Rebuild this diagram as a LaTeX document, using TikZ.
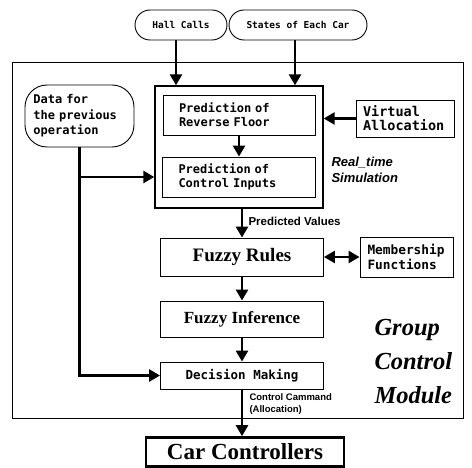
\documentclass[tikz,border=0pt]{standalone}
\usepackage{fontspec}
\setmainfont{Liberation Serif}
\setsansfont{Liberation Sans}
\setmonofont{DejaVu Sans Mono}
\usetikzlibrary{arrows.meta,shapes.misc}
\tikzset{
  box/.style={draw, line width=0.9pt, inner sep=0pt},
  pill/.style={draw, rounded rectangle, line width=0.9pt, inner sep=0pt,
    font=\ttfamily\bfseries\fontsize{9.5}{11}\selectfont},
  mono/.style={font=\ttfamily\bfseries\fontsize{12}{14}\selectfont, align=left},
  heavy/.style={font=\rmfamily\bfseries\fontsize{#1}{#1}\selectfont},
  arr/.style={line width=2.6pt, -{Triangle[length=11pt,width=12pt]}},
}
\begin{document}
\begin{tikzpicture}[x=1pt,y=-1pt]
    \useasboundingbox (0,0) rectangle (472,468);
    % frame of the module
    \node[box, line width=0.8pt, minimum width=451pt, minimum height=356pt] (module) at (237.5,240) {};
    % inputs
    \node[pill, minimum width=92pt, minimum height=30pt] (hall) at (181,25) {Hall Calls};
    \node[pill, minimum width=138pt, minimum height=30pt] (state) at (298,25) {States of Each Car};
    % real time simulation
    \node[box, line width=1.4pt, minimum width=168pt, minimum height=122pt] (sim) at (239,147) {};
    \node[box, mono, text width=120pt, minimum width=152pt, minimum height=40pt] (rev) at (239,115) {Prediction of\\Reverse Floor};
    \node[box, mono, text width=120pt, minimum width=153pt, minimum height=40pt] (ctl) at (238.5,177) {Prediction of\\Control Inputs};
    \node[box, mono, font=\ttfamily\bfseries\fontsize{13.5}{14}\selectfont, text width=84pt, minimum width=98pt, minimum height=37pt] (virt) at (405,118.5) {Virtual\\Allocation};
    \node[anchor=west, align=left, font=\sffamily\bfseries\itshape\fontsize{13}{16}\selectfont] (rtlbl) at (328,170) {Real\_time\\Simulation};
    \node[box, rounded corners=22pt, mono, font=\ttfamily\bfseries\fontsize{12}{15.5}\selectfont, text width=92pt, minimum width=109pt, minimum height=62pt] (data) at (79.5,116) {Data for\\the previous\\operation};
    % fuzzy part
    \node[box, heavy=19, minimum width=163pt, minimum height=38pt] (rules) at (242,257) {Fuzzy Rules};
    \node[box, mono, font=\ttfamily\bfseries\fontsize{12.8}{15}\selectfont, text width=78pt, minimum width=93pt, minimum height=40pt] (memb) at (406.5,257) {Membership\\Functions};
    \node[box, heavy=17, minimum width=163pt, minimum height=36pt] (infer) at (242,319) {Fuzzy Inference};
    \node[box, font=\ttfamily\bfseries\fontsize{12.5}{15}\selectfont, minimum width=163pt, minimum height=27pt] (dec) at (242,375.5) {Decision Making};
    \node[box, line width=2.6pt, heavy=23, minimum width=198pt, minimum height=29pt] (car) at (245,452) {Car Controllers};
    \node[anchor=west, align=left, font=\rmfamily\bfseries\itshape\fontsize{24.5}{34}\selectfont] (gcm) at (371,362) {Group\\Control\\Module};
    % labels
    \node[anchor=west, font=\sffamily\bfseries\fontsize{11.5}{13}\selectfont] (predlbl) at (245,221) {Predicted Values};
    \node[anchor=west, align=left, font=\sffamily\bfseries\fontsize{9.5}{12}\selectfont] (cmdlbl) at (246,404) {Control Cammand\\(Allocation)};
    % arrows
    \draw[arr] ([xshift=-5pt]hall.south) -- ([xshift=-5pt]hall.south |- sim.north);
    \draw[arr] ([xshift=-3pt]state.south) -- ([xshift=-3pt]state.south |- sim.north);
    \draw[arr] (virt.west) -- (virt.west -| sim.east);
    \draw[arr] (rev.south) -- (ctl.north -| rev.south);
    \draw[arr] (data.south) |- (dec.west);
    \draw[arr] (data.south |- ctl.west) -- (sim.west |- ctl.west);
    \draw[arr] (rules.north |- sim.south) -- (rules.north);
    \draw[line width=2.6pt, {Triangle[length=11pt,width=12pt]}-{Triangle[length=11pt,width=12pt]}] (rules.east) -- (memb.west);
    \draw[arr] (rules.south) -- (infer.north);
    \draw[arr] (infer.south) -- (dec.north);
    \draw[arr] (dec.south) -- (dec.south |- car.north);
\end{tikzpicture}
\end{document}
